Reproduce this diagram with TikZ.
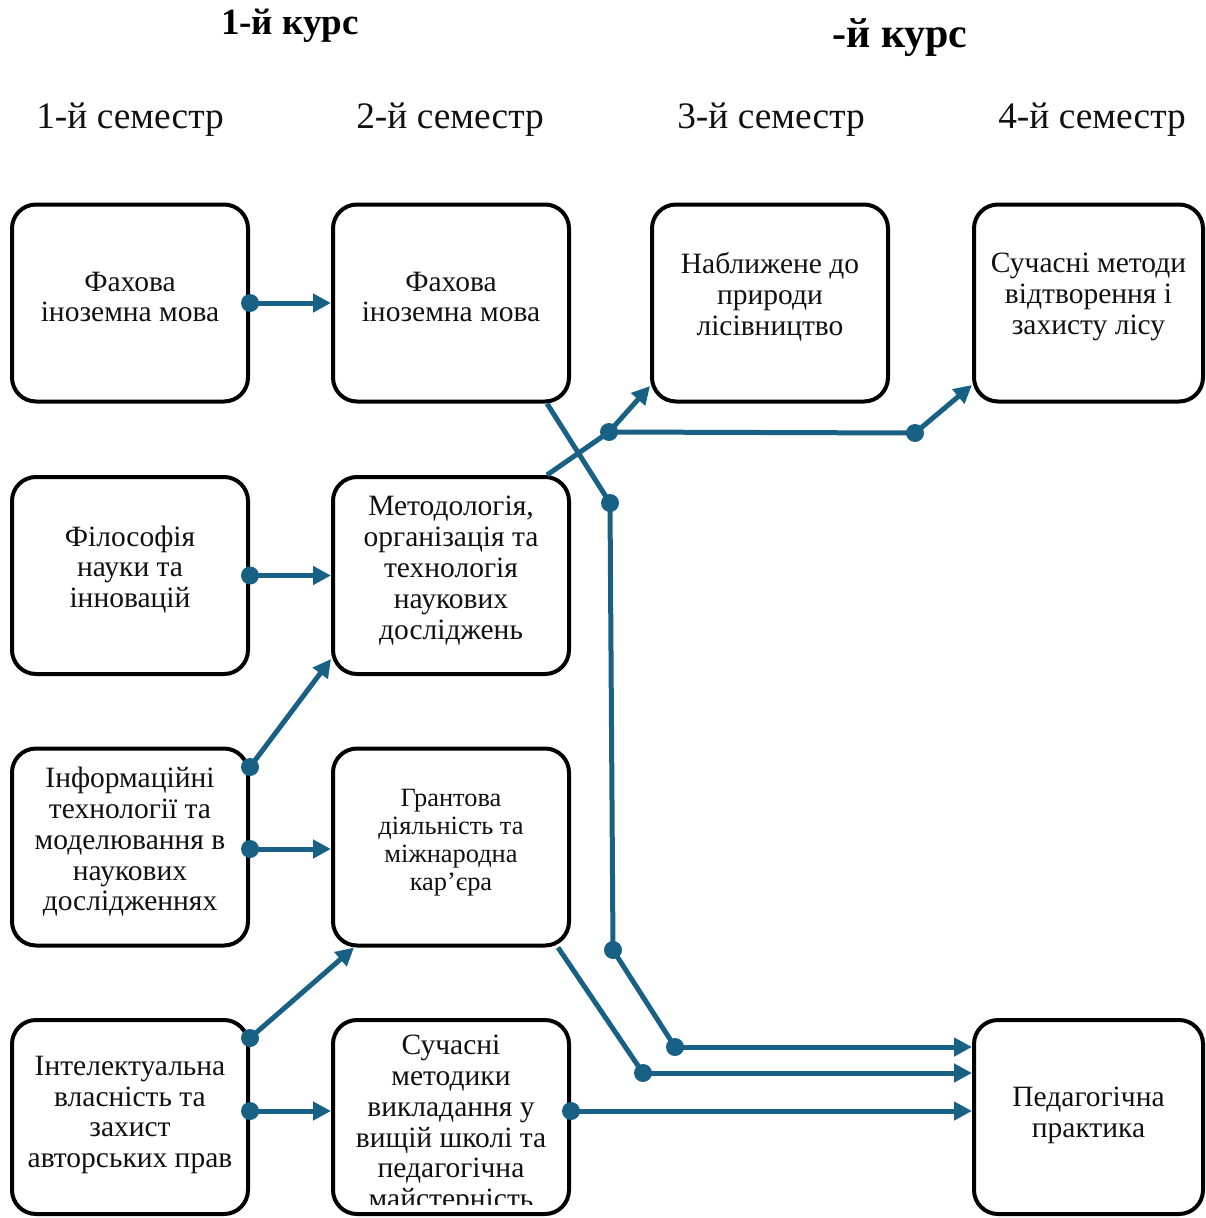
\documentclass[tikz,border=0pt]{standalone}
\usepackage{fontspec}
\setmainfont{Liberation Serif}
\usetikzlibrary{arrows.meta,calc}
\definecolor{conn}{RGB}{24,97,132}
\definecolor{txt}{RGB}{17,17,17}
\tikzset{
  box/.style={draw=black,line width=4pt,rounded corners=24pt,minimum width=236pt,minimum height=197pt,inner sep=0pt},
  boxtxt/.style={align=center,text=txt,font=\fontsize{29.5}{30.8}\selectfont,inner sep=0pt},
  semlbl/.style={anchor=base,text=txt,font=\fontsize{37.4}{40}\selectfont,inner sep=0pt},
  courselbl/.style={anchor=base,text=black,font=\bfseries\fontsize{37}{40}\selectfont,inner sep=0pt},
  link/.style={draw=conn,line width=5pt},
  arr/.style={link,-{Triangle[length=18pt,width=18pt]}},
}
\newcommand{\jdot}[1]{\fill[conn] (#1) circle (9pt);}
\begin{document}
\begin{tikzpicture}[x=1pt,y=-1pt]
\useasboundingbox (0,0) rectangle (1206,1218);
% headers
\node[courselbl] (k1) at (290,34) {1-й курс};
\node[courselbl,font=\bfseries\fontsize{42}{44}\selectfont] (k2) at (900,47) {-й курс};
\node[semlbl] (s1) at (130,128) {1-й семестр};
\node[semlbl] (s2) at (450,128) {2-й семестр};
\node[semlbl] (s3) at (771,128) {3-й семестр};
\node[semlbl] (s4) at (1092,128) {4-й семестр};
% boxes
\node[box] (b11) at (130,303) {};
\node[box] (b12) at (451,303) {};
\node[box] (b31) at (770,303) {};
\node[box,minimum width=229pt] (b41) at (1088.5,303) {};
\node[box] (b21) at (130,575.5) {};
\node[box] (b22) at (451,575.5) {};
\node[box] (b13) at (130,847) {};
\node[box] (b23) at (451,847) {};
\node[box,minimum height=194pt] (b14) at (130,1117) {};
\node[box,minimum height=194pt] (b24) at (451,1117) {};
\node[box,minimum width=229pt,minimum height=194pt] (b44) at (1088.5,1117) {};
% texts
\node[boxtxt] (t11) at ([yshift=6pt]b11.center) {Фахова\\іноземна мова};
\node[boxtxt] (t12) at ([yshift=6pt]b12.center) {Фахова\\іноземна мова};
\node[boxtxt] (t31) at ([yshift=6pt]b31.center) {Наближене до\\природи\\лісівництво};
\node[boxtxt] (t41) at ([yshift=6pt]b41.center) {Сучасні методи\\відтворення і\\захисту лісу};
\node[boxtxt] (t21) at ([yshift=6pt]b21.center) {Філософія\\науки та\\інновацій};
\node[boxtxt] (t22) at ([yshift=5pt]b22.center) {Методологія,\\організація та\\технологія\\наукових\\досліджень};
\node[boxtxt] (t13) at ([yshift=5pt]b13.center) {Інформаційні\\технології та\\моделювання в\\наукових\\дослідженнях};
\node[boxtxt,font=\fontsize{26.4}{28}\selectfont] (t23) at ([yshift=4pt]b23.center) {Грантова\\діяльність та\\міжнародна\\кар’єра};
\node[boxtxt] (t14) at ([yshift=2pt]b14.center) {Інтелектуальна\\власність та\\захист\\авторських прав};
\node[boxtxt] (t44) at ([yshift=2pt]b44.center) {Педагогічна\\практика};
\begin{scope}
\clip (333,1022) rectangle (569,1204);
\node[boxtxt] (t24) at (451,1125) {Сучасні\\методики\\викладання у\\вищій школі та\\педагогічна\\майстерність};
\end{scope}
% junction coordinates
\coordinate (ja) at (609,432);
\coordinate (jb) at (915,433);
\coordinate (jc) at (610,503);
\coordinate (jd) at (613,950);
\coordinate (je) at (675,1047);
\coordinate (jf) at (643,1073);
% connectors
\draw[arr] (b11.east) -- (b12.west);
\draw[arr] (b21.east) -- (b22.west);
\draw[arr] ([yshift=80pt]b13.east) -- ([yshift=-83.5pt]b22.west);
\draw[arr] ([yshift=-2pt]b13.east) -- ([yshift=-2pt]b23.west);
\draw[arr] ([yshift=79pt]b14.east) -- ([xshift=-97pt]b23.south);
\draw[arr] ([yshift=6pt]b14.east) -- ([yshift=6pt]b24.west);
\draw[arr] ([yshift=6pt]b24.east) -- ([yshift=6pt]b44.west);
\draw[link] ([xshift=107pt]b23.south) -- (jf);
\draw[arr] (jf) -- ([yshift=44pt]b44.west);
\draw[link] ([xshift=96pt]b12.south) -- (jc) -- (jd) -- (je);
\draw[arr] (je) -- ([yshift=70pt]b44.west);
\draw[link] ([xshift=96pt]b22.north) -- (ja);
\draw[arr] (ja) -- ([yshift=-83pt]b31.west);
\draw[link] (ja) -- (jb);
\draw[arr] (jb) -- ([yshift=-82pt]b41.west);
% dots
\jdot{b11.east}
\jdot{b21.east}
\jdot{$(b13.east)+(0,-80)$}
\jdot{$(b13.east)+(0,2)$}
\jdot{$(b14.east)+(0,-79)$}
\jdot{$(b14.east)+(0,-6)$}
\jdot{$(b24.east)+(0,-6)$}
\jdot{ja}
\jdot{jb}
\jdot{jc}
\jdot{jd}
\jdot{je}
\jdot{jf}
\end{tikzpicture}
\end{document}
